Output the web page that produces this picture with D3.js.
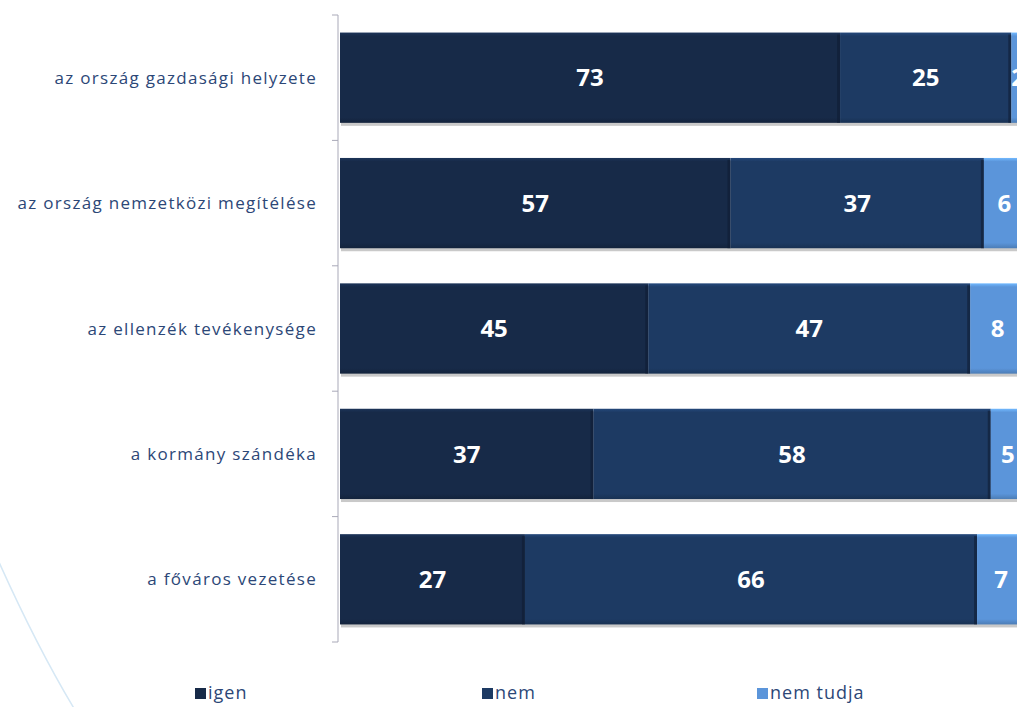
<!DOCTYPE html>
<html>
<head>
<meta charset="utf-8">
<script src="https://cdn.jsdelivr.net/npm/d3@7"></script>
<style>
  body { margin: 0; background: #fff; }
  text { font-family: "Open Sans", Lato, sans-serif; }
</style>
</head>
<body>
<div id="chart"></div>
<script>
// Data
var categories = ["az ország gazdasági helyzete", "az ország nemzetközi megítélése",
                  "az ellenzék tevékenysége", "a kormány szándéka", "a főváros vezetése"];
var igen = [73, 57, 45, 37, 27];
var nem = [25, 37, 47, 58, 66];
var nemTudja = [2, 6, 8, 5, 7];
var seriesNames = ["igen", "nem", "nem tudja"];
var seriesColors = ["#172a48", "#1d3a63", "#5b95da"];

var width = 1017, height = 707;

var svg = d3.select("#chart").append("svg")
  .attr("width", width)
  .attr("height", height);

// gradients to fake the bevel look
var defs = svg.append("defs");
seriesColors.forEach(function(c, i) {
  var g = defs.append("linearGradient")
    .attr("id", "grad" + i)
    .attr("x1", 0).attr("y1", 0).attr("x2", 0).attr("y2", 1);
  g.append("stop").attr("offset", "0%").attr("stop-color", d3.color(c).brighter(0.6));
  g.append("stop").attr("offset", "4%").attr("stop-color", c);
  g.append("stop").attr("offset", "94%").attr("stop-color", c);
  g.append("stop").attr("offset", "100%").attr("stop-color", d3.color(c).darker(0.5));
});

// faint decorative arc bottom-left
svg.append("path")
  .attr("d", "M -40 470 Q 20 620 78 715")
  .attr("fill", "none")
  .attr("stroke", "#d6e8f5")
  .attr("stroke-width", 1.5);

// Build stacked rows
var rows = categories.map(function(c, i) {
  return { cat: c, values: [igen[i], nem[i], nemTudja[i]] };
});
var stack = d3.stack().keys([0, 1, 2]).value(function(d, k) { return d.values[k]; });
var stacked = stack(rows);

var x = d3.scaleLinear().domain([0, 100]).range([340, 1025]);
var y = d3.scaleBand().domain(categories).range([15, 642]).paddingInner(0.28).paddingOuter(0.14);

// shadows under bars
svg.selectAll(".shadow")
  .data(rows)
  .enter().append("rect")
  .attr("x", x(0) + 1)
  .attr("y", function(d) { return y(d.cat) + 3; })
  .attr("width", x(100) - x(0))
  .attr("height", y.bandwidth())
  .attr("fill", "#c9c9c9");

var layers = svg.selectAll(".layer")
  .data(stacked)
  .enter().append("g")
  .attr("class", "layer");

layers.selectAll("rect")
  .data(function(d) { return d.map(function(p) { return { p: p, key: d.key }; }); })
  .enter().append("rect")
  .attr("x", function(d) { return x(d.p[0]); })
  .attr("y", function(d) { return y(d.p.data.cat); })
  .attr("width", function(d) { return x(d.p[1]) - x(d.p[0]); })
  .attr("height", y.bandwidth())
  .attr("fill", function(d) { return "url(#grad" + d.key + ")"; });

// darker line on segment right edge
layers.selectAll("line")
  .data(function(d) { return d.map(function(p) { return p; }); })
  .enter().append("line")
  .attr("x1", function(d) { return x(d[1]) - 1.5; })
  .attr("x2", function(d) { return x(d[1]) - 1.5; })
  .attr("y1", function(d) { return y(d.data.cat) + 2; })
  .attr("y2", function(d) { return y(d.data.cat) + y.bandwidth(); })
  .attr("stroke", "#0f1d33")
  .attr("stroke-opacity", 0.6)
  .attr("stroke-width", 3);

// value labels
layers.selectAll("text")
  .data(function(d) { return d.map(function(p) { return p; }); })
  .enter().append("text")
  .attr("x", function(d) { return (x(d[0]) + x(d[1])) / 2; })
  .attr("y", function(d) { return y(d.data.cat) + y.bandwidth() / 2; })
  .attr("dy", "0.36em")
  .attr("text-anchor", "middle")
  .attr("fill", "#fff")
  .attr("font-size", 24)
  .attr("font-weight", "bold")
  .text(function(d) { return d[1] - d[0]; });

// axis: line with ticks at band boundaries
var axisX = 338;
svg.append("line")
  .attr("x1", axisX).attr("x2", axisX)
  .attr("y1", y.range()[0]).attr("y2", y.range()[1])
  .attr("stroke", "#a9a9b8");
var bounds = d3.range(categories.length + 1).map(function(i) {
  return y.range()[0] + i * y.step();
});
svg.selectAll(".tick")
  .data(bounds)
  .enter().append("line")
  .attr("x1", axisX - 6).attr("x2", axisX)
  .attr("y1", function(d) { return d; }).attr("y2", function(d) { return d; })
  .attr("stroke", "#a9a9b8");

// category labels
svg.selectAll(".cat")
  .data(categories)
  .enter().append("text")
  .attr("x", 317)
  .attr("y", function(d) { return y(d) + y.bandwidth() / 2; })
  .attr("dy", "0.36em")
  .attr("text-anchor", "end")
  .attr("fill", "#2c4777")
  .attr("font-size", 17)
  .attr("letter-spacing", "1.3px")
  .text(function(d) { return d; });

// legend
var legendX = [195, 482, 757];
var legend = svg.selectAll(".legend")
  .data(seriesNames)
  .enter().append("g")
  .attr("transform", function(d, i) { return "translate(" + legendX[i] + ",688)"; });
legend.append("rect")
  .attr("width", 11).attr("height", 11)
  .attr("fill", function(d, i) { return seriesColors[i]; });
legend.append("text")
  .attr("x", 13)
  .attr("y", 5)
  .attr("dy", "0.36em")
  .attr("fill", "#2c4777")
  .attr("font-size", 18)
  .attr("letter-spacing", "1px")
  .text(function(d) { return d; });
</script>
</body>
</html>
